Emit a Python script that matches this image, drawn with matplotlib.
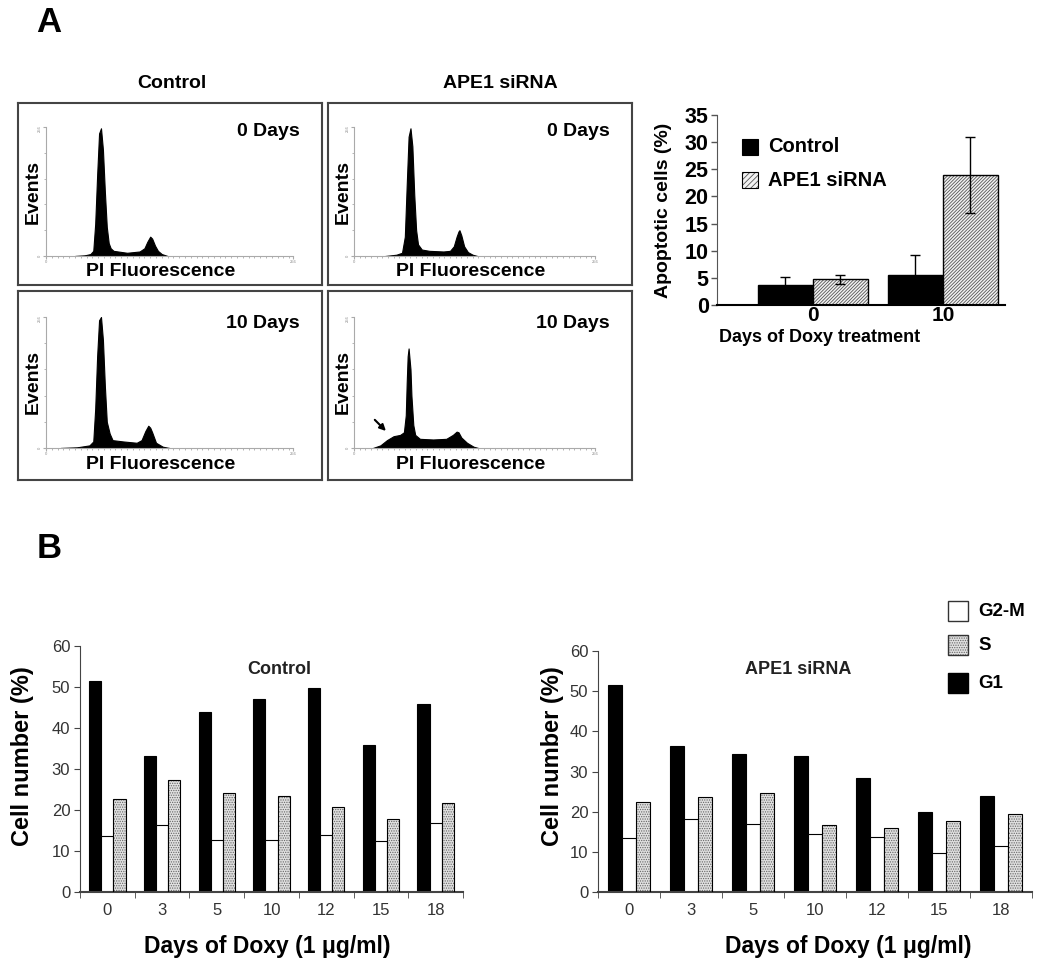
import matplotlib
matplotlib.use('Agg')
import matplotlib.pyplot as plt
from matplotlib.patches import Rectangle
import numpy as np

plt.rcParams['font.family'] = ['Liberation Sans', 'DejaVu Sans']
plt.rcParams['hatch.linewidth'] = 0.6

W, H = 1050, 975

# --- flow cytometry histograms (channel, events) ---
ctrl0_ch = [30, 40, 46, 49, 51, 53, 55, 57, 59, 61, 63, 65, 67, 70, 84, 97, 102, 105, 108, 110, 113, 116, 120, 126]
ctrl0_ev = [0, 1, 3, 8, 50, 125, 190, 198, 165, 100, 45, 20, 12, 8, 5, 7, 12, 22, 30, 27, 16, 8, 3, 0]
sirna0_ch = [33, 45, 51, 54, 56, 58, 60, 62, 64, 66, 68, 72, 80, 95, 102, 106, 109, 111, 112, 114, 117, 121, 126, 131]
sirna0_ev = [0, 2, 5, 30, 110, 185, 198, 170, 95, 40, 18, 10, 8, 7, 8, 15, 30, 38, 40, 32, 15, 6, 2, 0]
ctrl10_ch = [15, 32, 45, 49, 51, 53, 55, 57, 59, 61, 63, 66, 69, 80, 94, 99, 103, 106, 108, 110, 114, 121, 128]
ctrl10_ev = [0, 1, 4, 10, 60, 140, 195, 200, 165, 95, 40, 22, 12, 10, 8, 12, 26, 34, 31, 24, 8, 2, 0]
sirna10_ch = [20, 28, 35, 42, 49, 53, 55, 56, 57, 58, 60, 61, 63, 65, 70, 84, 98, 105, 109, 111, 114, 120, 127, 132]
sirna10_ev = [0, 4, 12, 18, 20, 24, 50, 100, 140, 152, 120, 80, 35, 20, 14, 13, 14, 20, 25, 24, 16, 8, 2, 0]

# --- apoptosis bar chart ---
apop_days = ['0', '10']
apop_ctrl = [3.7, 5.5]
apop_ctrl_err = [1.5, 3.7]
apop_sirna = [4.7, 24.0]
apop_sirna_err = [0.9, 7.0]

# --- cell cycle distribution ---
doxy_days = ['0', '3', '5', '10', '12', '15', '18']
ctrl_g1 = [51.5, 33.1, 44.0, 47.1, 49.8, 35.9, 45.8]
ctrl_g2m = [13.6, 16.3, 12.6, 12.6, 13.8, 12.4, 16.9]
ctrl_s = [22.6, 27.3, 24.2, 23.5, 20.8, 17.8, 21.6]
sirna_g1 = [51.6, 36.3, 34.4, 33.8, 28.5, 20.0, 24.0]
sirna_g2m = [13.5, 18.2, 16.9, 14.4, 13.8, 9.7, 11.4]
sirna_s = [22.5, 23.6, 24.6, 16.6, 16.0, 17.8, 19.3]


def px_axes(l, t, r, b):
    return fig.add_axes([l / W, 1 - b / H, (r - l) / W, (b - t) / H])


def ftext(x, y, s, **kw):
    fig.text(x / W, 1 - y / H, s, **kw)


def fig_square(x, y, size, **kw):
    fig.add_artist(Rectangle((x / W, 1 - (y + size) / H), size / W, size / H,
                             transform=fig.transFigure, **kw))


fig = plt.figure(figsize=(W / 100, H / 100), dpi=100)

ftext(49, 22, 'A', fontsize=25, fontweight='bold', ha='center', va='center')
ftext(49, 549, 'B', fontsize=25, fontweight='bold', ha='center', va='center')

# histogram panels
panels = [
    ((18, 103, 322, 285), (46, 127, 293, 256), ctrl0_ch, ctrl0_ev, '0 Days'),
    ((328, 103, 632, 285), (354, 127, 595, 256), sirna0_ch, sirna0_ev, '0 Days'),
    ((18, 291, 322, 480), (46, 317, 293, 448), ctrl10_ch, ctrl10_ev, '10 Days'),
    ((328, 291, 632, 480), (354, 317, 595, 448), sirna10_ch, sirna10_ev, '10 Days'),
]
for i, (box, hax, ch, ev, lab) in enumerate(panels):
    bx = px_axes(*box)
    bx.set_xticks([])
    bx.set_yticks([])
    for s in bx.spines.values():
        s.set_color('#444')
        s.set_linewidth(1.5)
    ax = px_axes(*hax)
    ax.fill_between(ch, ev, color='black', lw=0.8)
    ax.set_xlim(0, 256)
    ax.set_ylim(0, 200)
    ax.patch.set_alpha(0)
    for s in ['top', 'right']:
        ax.spines[s].set_visible(False)
    for s in ['left', 'bottom']:
        ax.spines[s].set_color('#aaa')
        ax.spines[s].set_linewidth(0.8)
    ax.set_xticks([0, 256])
    ax.set_xticklabels(['0', '256'])
    ax.set_xticks(np.arange(0, 257, 6), minor=True)
    ax.set_yticks([0, 200])
    ax.set_yticklabels(['0', '256'], rotation=90)
    ax.set_yticks(np.arange(0, 201, 40), minor=True)
    ax.tick_params(which='both', length=2, color='#aaa', labelsize=3, labelcolor='#888', pad=1)
    ax.tick_params(which='minor', length=1.5)
    top = box[1]
    ftext(box[2] - 22, top + (28 if i < 2 else 32), lab, fontsize=14, fontweight='bold',
          ha='right', va='center')
    ftext(box[0] + 15.5, (hax[1] + hax[3]) / 2, 'Events', fontsize=14, fontweight='bold',
          rotation=90, ha='center', va='center')
    ftext(box[0] + 143, hax[3] + 16, 'PI Fluorescence', fontsize=14, fontweight='bold',
          ha='center', va='center')
    if i == 3:
        ax.annotate('', xy=(36, 23), xytext=(20, 46),
                    arrowprops=dict(arrowstyle='-|>', color='black', lw=1.5, mutation_scale=9))

ftext(172, 84, 'Control', fontsize=14, fontweight='bold', ha='center', va='center')
ftext(500, 84, 'APE1 siRNA', fontsize=14, fontweight='bold', ha='center', va='center')

# apoptotic cells bar chart
ax = px_axes(717, 115, 1005, 305)
x = np.arange(len(apop_days))
bw = 0.423
ax.bar(x - bw / 2, apop_ctrl, bw, color='black', edgecolor='black', lw=1, zorder=2)
ax.bar(x + bw / 2, apop_sirna, bw, color='#f2f2f2', edgecolor='#555', hatch='//////////', lw=0, zorder=2)
ax.bar(x + bw / 2, apop_sirna, bw, fill=False, edgecolor='black', lw=1, zorder=3)
ax.errorbar(x - bw / 2, apop_ctrl, yerr=apop_ctrl_err, fmt='none', ecolor='black',
            elinewidth=1, capsize=3.5, zorder=4)
ax.errorbar(x + bw / 2, apop_sirna, yerr=apop_sirna_err, fmt='none', ecolor='black',
            elinewidth=1, capsize=3.5, zorder=4)
ax.set_xlim(-0.738, 1.477)
ax.set_ylim(0, 35)
ax.set_yticks(range(0, 36, 5))
ax.set_xticks(x)
ax.set_xticklabels(apop_days)
for s in ['top', 'right']:
    ax.spines[s].set_visible(False)
ax.spines['left'].set_color('#555')
ax.spines['bottom'].set_linewidth(1.5)
ax.tick_params(axis='y', length=4, width=1, color='#555', pad=2, labelsize=15.5)
ax.tick_params(axis='x', length=0, pad=1, labelsize=15)
for t in ax.get_xticklabels() + ax.get_yticklabels():
    t.set_fontweight('bold')
ftext(664, 210, 'Apoptotic cells (%)', fontsize=14, fontweight='bold', rotation=90,
      ha='center', va='center')
ftext(820, 338, 'Days of Doxy treatment', fontsize=13, fontweight='bold', ha='center', va='center')
fig_square(742, 139, 16, facecolor='black', edgecolor='black', lw=0.8)
fig_square(742, 172, 16, facecolor='#f2f2f2', edgecolor='#555', hatch='//////', lw=0)
fig_square(742, 172, 16, fill=False, edgecolor='black', lw=0.8)
ftext(768, 147, 'Control', fontsize=14.5, fontweight='bold', ha='left', va='center')
ftext(768, 180, 'APE1 siRNA', fontsize=14.5, fontweight='bold', ha='left', va='center')

# cell cycle bar charts
cycle = [
    ((80, 646, 463, 892), ctrl_g1, ctrl_g2m, ctrl_s, 'Control', 279, 23, 267),
    ((598, 651, 1032, 892), sirna_g1, sirna_g2m, sirna_s, 'APE1 siRNA', 798, 553, 848),
]
for box, g1, g2m, s_ph, title, tx, ylx, xlx in cycle:
    ax = px_axes(*box)
    x = np.arange(len(doxy_days))
    bw = 0.222
    ax.bar(x - bw, g1, bw, color='black', edgecolor='black', lw=0.8, zorder=2)
    ax.bar(x, g2m, bw, color='white', edgecolor='black', lw=0.8, zorder=2)
    ax.bar(x + bw, s_ph, bw, color='#e0e0e0', edgecolor='#666', hatch='.......', lw=0, zorder=2)
    ax.bar(x + bw, s_ph, bw, fill=False, edgecolor='black', lw=0.8, zorder=3)
    ax.set_xlim(-0.5, len(doxy_days) - 0.5)
    ax.set_ylim(0, 60)
    ax.set_yticks(range(0, 61, 10))
    ax.set_xticks(x)
    ax.set_xticklabels(doxy_days)
    ax.set_xticks(np.arange(-0.5, len(doxy_days)), minor=True)
    for s in ['top', 'right']:
        ax.spines[s].set_visible(False)
    ax.spines['left'].set_color('#444')
    ax.spines['bottom'].set_color('#444')
    ax.spines['bottom'].set_linewidth(1.5)
    ax.tick_params(axis='y', length=4, color='#444', pad=3, labelsize=12, labelcolor='#333')
    ax.tick_params(axis='x', which='major', length=0, pad=8, labelsize=12, labelcolor='#333')
    ax.tick_params(axis='x', which='minor', length=4, color='#444')
    ftext(tx, 670, title, fontsize=13, fontweight='bold', ha='center', va='center', color='#222')
    ftext(ylx, 756, 'Cell number (%)', fontsize=17, fontweight='bold', rotation=90,
          ha='center', va='center')
    ftext(xlx, 947, 'Days of Doxy (1 \u03bcg/ml)', fontsize=16.5, fontweight='bold',
          ha='center', va='center')

fig_square(948, 601, 20, facecolor='white', edgecolor='#333', lw=1)
fig_square(948, 635, 20, facecolor='#e0e0e0', edgecolor='#666', hatch='.......', lw=0)
fig_square(948, 635, 20, fill=False, edgecolor='#333', lw=1)
fig_square(948, 673, 20, facecolor='black', edgecolor='black', lw=1)
ftext(978, 611, 'G2-M', fontsize=13.5, fontweight='bold', ha='left', va='center')
ftext(978, 645, 'S', fontsize=13.5, fontweight='bold', ha='left', va='center')
ftext(978, 684, 'G1', fontsize=13.5, fontweight='bold', ha='left', va='center')

fig.savefig('out.png', dpi=100)
